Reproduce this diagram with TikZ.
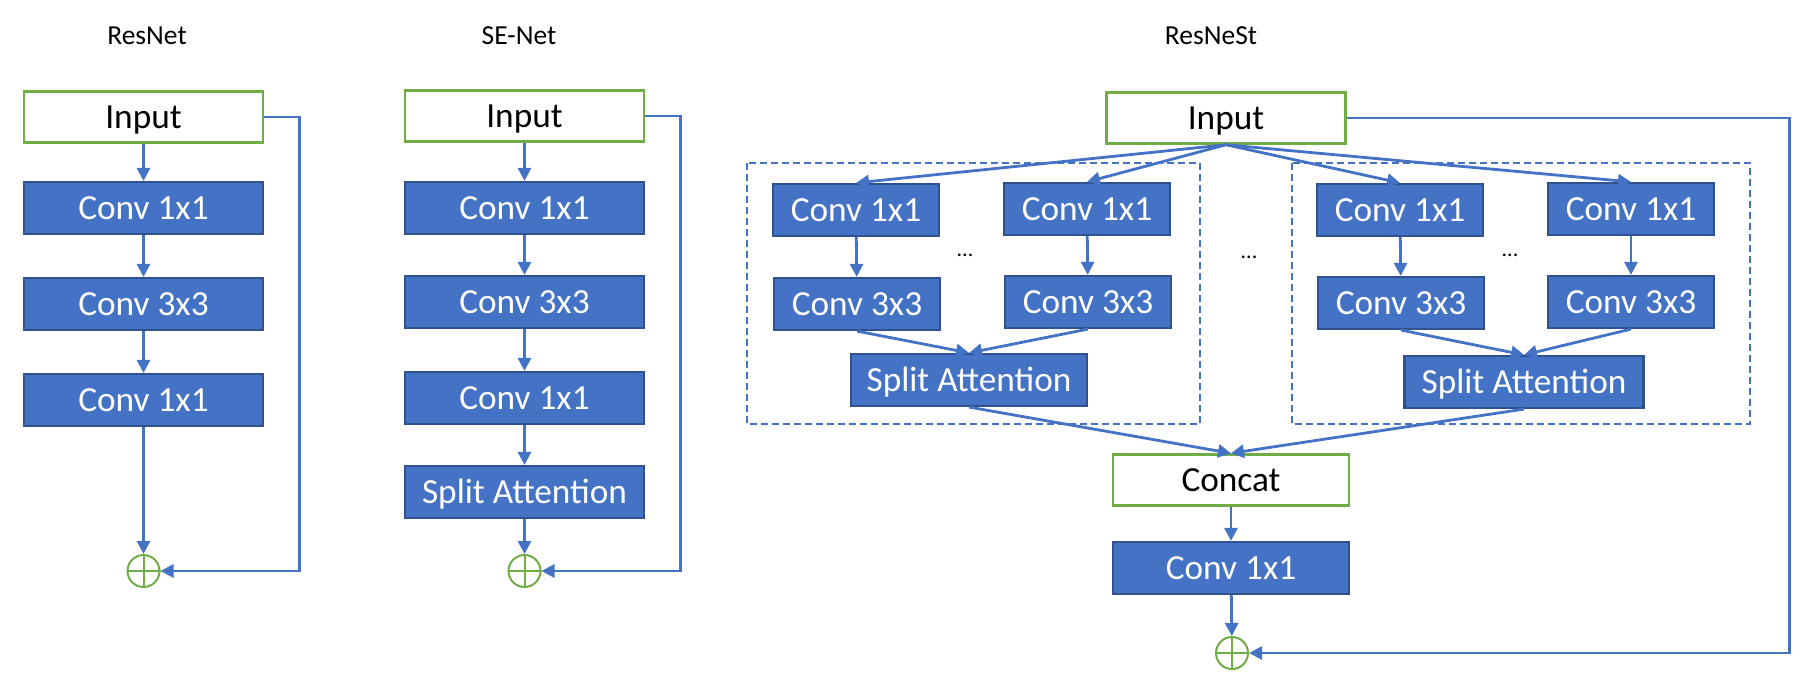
\documentclass[tikz,border=0pt]{standalone}
\usepackage{fontspec}
\setmainfont{Carlito}
\usetikzlibrary{arrows.meta}
\definecolor{boxblue}{HTML}{4472C4}
\definecolor{boxedge}{HTML}{2F528F}
\definecolor{ingreen}{HTML}{70AD47}
\tikzset{
  boxfont/.style={font=\fontsize{35.3}{40}\selectfont},
  bluebox/.style={boxfont, draw=boxedge, fill=boxblue, line width=2.2pt, text=white,
    minimum width=239pt, minimum height=52pt, inner sep=0pt, text height=22.7pt, text depth=0pt},
  greenbox/.style={boxfont, draw=ingreen, fill=white, line width=2.5pt, text=black,
    minimum width=239pt, minimum height=51pt, inner sep=0pt, text height=22.7pt, text depth=0pt},
  branchbox/.style={bluebox, minimum width=166pt},
  conn/.style={draw=boxblue, line width=2.8pt, -{Triangle[length=13pt,width=13pt]}},
  plusnode/.style={circle, draw=ingreen, line width=2pt, minimum size=32pt, inner sep=0pt},
  dashbox/.style={draw=boxblue, line width=1.9pt, dash pattern=on 7pt off 4pt},
  titletext/.style={font=\fontsize{27.5}{32}\selectfont, inner sep=0pt, text height=17.7pt, text depth=0pt},
  dotstext/.style={font=\fontsize{22}{26}\selectfont, inner sep=0pt}
}
\begin{document}
\begin{tikzpicture}[x=1pt,y=-1pt]
\useasboundingbox (0,0) rectangle (1814,696);

% ---------- ResNet ----------
\node[titletext] (t1) at (147,36) {ResNet};
\node[greenbox] (in1) at (143.5,117) {Input};
\node[bluebox] (a1) at (143.5,208) {Conv 1x1};
\node[bluebox] (b1) at (143.5,304) {Conv 3x3};
\node[bluebox] (c1) at (143.5,400) {Conv 1x1};
\node[plusnode] (p1) at (143.5,571) {};
\draw[ingreen, line width=2pt] (p1.north) -- (p1.south) (p1.west) -- (p1.east);
\draw[conn] (in1) -- (a1);
\draw[conn] (a1) -- (b1);
\draw[conn] (b1) -- (c1);
\draw[conn] (c1) -- (p1);
\draw[conn] (in1.east) -- ++(35,0) |- (p1.east);

% ---------- SE-Net ----------
\node[titletext] (t2) at (519,36) {SE-Net};
\node[greenbox] (in2) at (524.5,116) {Input};
\node[bluebox] (a2) at (524.5,208) {Conv 1x1};
\node[bluebox] (b2) at (524.5,302) {Conv 3x3};
\node[bluebox] (c2) at (524.5,398) {Conv 1x1};
\node[bluebox] (s2) at (524.5,492) {Split Attention};
\node[plusnode] (p2) at (524.5,571) {};
\draw[ingreen, line width=2pt] (p2.north) -- (p2.south) (p2.west) -- (p2.east);
\draw[conn] (in2) -- (a2);
\draw[conn] (a2) -- (b2);
\draw[conn] (b2) -- (c2);
\draw[conn] (c2) -- (s2);
\draw[conn] (s2) -- (p2);
\draw[conn] (in2.east) -- ++(35,0) |- (p2.east);

% ---------- ResNeSt ----------
\node[titletext] (t3) at (1211,36) {ResNeSt};
\draw[dashbox] (747,163) rectangle (1200,424);
\draw[dashbox] (1292,163) rectangle (1750,424);

\node[greenbox] (in3) at (1226,118) {Input};

\node[branchbox] (l1a) at (856,210) {Conv 1x1};
\node[branchbox] (l1b) at (857,304) {Conv 3x3};
\node[branchbox] (l2a) at (1087,209) {Conv 1x1};
\node[branchbox] (l2b) at (1088,302) {Conv 3x3};
\node[bluebox, minimum width=236pt] (ls) at (969,380) {Split Attention};

\node[branchbox] (r1a) at (1400,210) {Conv 1x1};
\node[branchbox] (r1b) at (1401,303) {Conv 3x3};
\node[branchbox] (r2a) at (1631,209) {Conv 1x1};
\node[branchbox] (r2b) at (1631,302) {Conv 3x3};
\node[bluebox] (rs) at (1524,382) {Split Attention};

\node[dotstext] (d1) at (965,255) {...};
\node[dotstext] (d2) at (1249,257) {...};
\node[dotstext] (d3) at (1510,255) {...};

\node[greenbox, minimum width=236pt] (cc) at (1231,480) {Concat};
\node[bluebox, minimum width=236pt] (cf) at (1231,568) {Conv 1x1};
\node[plusnode] (p3) at (1232,653) {};
\draw[ingreen, line width=2pt] (p3.north) -- (p3.south) (p3.west) -- (p3.east);

\draw[conn] (in3.south) -- (l1a.north);
\draw[conn] (in3.south) -- (l2a.north);
\draw[conn] (in3.south) -- (r1a.north);
\draw[conn] (in3.south) -- (r2a.north);
\draw[conn] (l1a) -- (l1b);
\draw[conn] (l2a) -- (l2b);
\draw[conn] (r1a) -- (r1b);
\draw[conn] (r2a) -- (r2b);
\draw[conn] (l1b.south) -- (ls.north);
\draw[conn] (l2b.south) -- (ls.north);
\draw[conn] (r1b.south) -- (rs.north);
\draw[conn] (r2b.south) -- (rs.north);
\draw[conn] (ls.south) -- (cc.north);
\draw[conn] (rs.south) -- (cc.north);
\draw[conn] (cc) -- (cf);
\draw[conn] (cf) -- (p3);
\draw[conn] (in3.east) -- ++(443,0) |- (p3.east);
\end{tikzpicture}
\end{document}
